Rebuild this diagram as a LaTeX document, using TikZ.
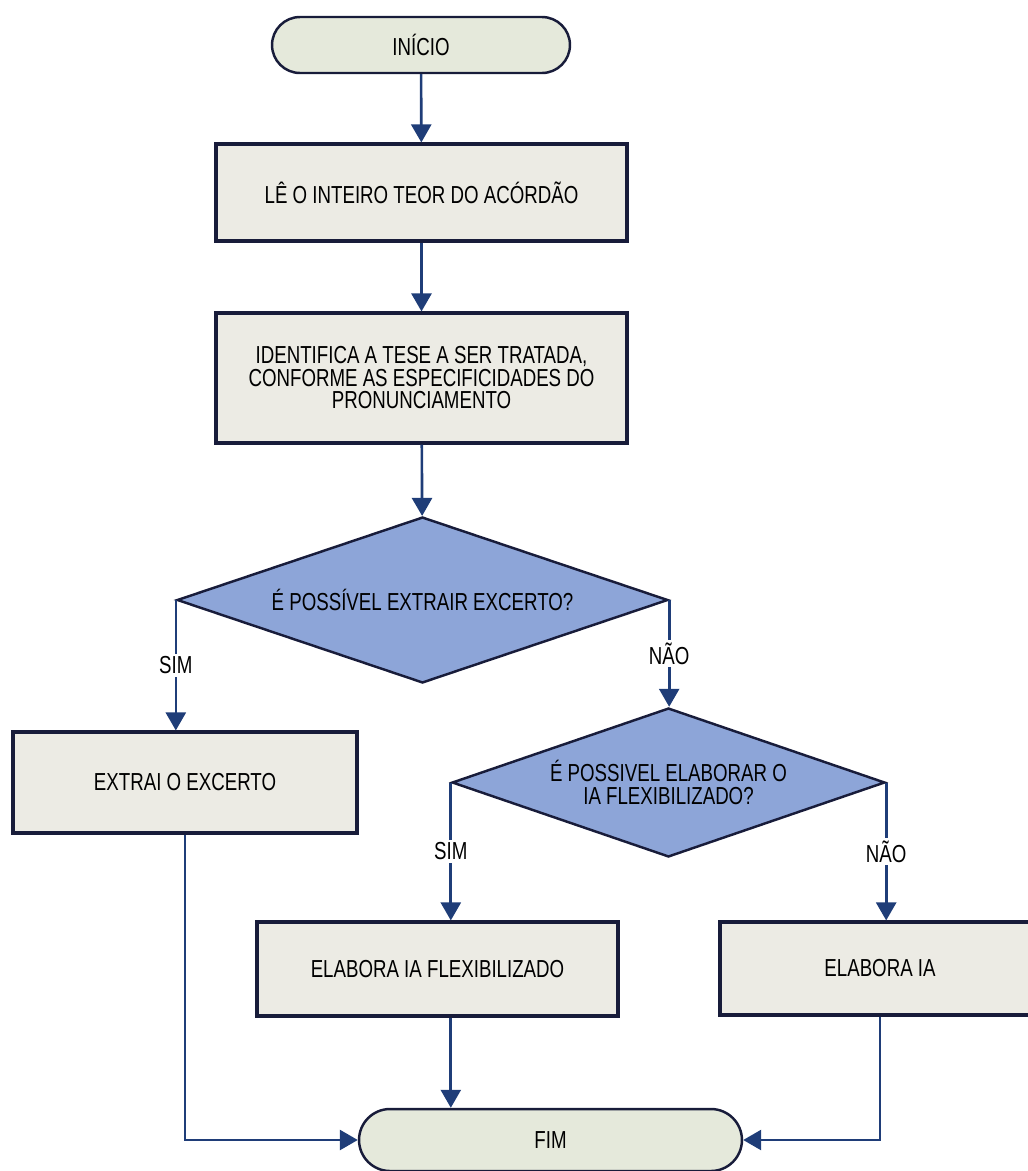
\documentclass[tikz,border=0pt]{standalone}
\usepackage{fontspec}
\setmainfont{Liberation Sans}[FakeStretch=0.76]
\usepackage{tikz}
\usetikzlibrary{shapes,arrows.meta,positioning,calc}
\usepackage{xcolor}
\definecolor{linecolor}{RGB}{31,61,120}
\definecolor{edgecolor}{RGB}{24,28,58}
\definecolor{boxcolor}{RGB}{236,235,228}
\definecolor{termcolor}{RGB}{229,233,219}
\definecolor{decisioncolor}{RGB}{141,165,216}

\begin{document}
\begin{tikzpicture}[
    x=0.02cm, y=-0.02cm,
    every node/.style={font=\fontsize{14}{12.8}\selectfont},
    terminal/.style={rectangle, rounded corners=0.56cm, draw=edgecolor, line width=1.4pt, fill=termcolor, minimum width=5.96cm, minimum height=1.12cm, align=center},
    process/.style={rectangle, draw=edgecolor, line width=1.8pt, fill=boxcolor, align=center},
    decision/.style={diamond, draw=edgecolor, line width=1.4pt, fill=decisioncolor, inner sep=0pt, align=center},
    arrow/.style={-{Triangle[length=3.6mm,width=4mm]}, line width=1.5pt, draw=linecolor},
    answer/.style={fill=white, inner sep=1.5pt}
]

% Page frame
\useasboundingbox (0,0) rectangle (1028,1171);

% Start
\node[terminal] (inicio) at (421,45) {INÍCIO};

% Read the decision
\node[process, minimum width=8.22cm, minimum height=1.94cm] (ler) at (421.5,192.5) {LÊ O INTEIRO TEOR DO ACÓRDÃO};

% Identify the thesis
\node[process, minimum width=8.22cm, minimum height=2.6cm] (tese) at (421.5,378) {
    IDENTIFICA A TESE A SER TRATADA,\\
    CONFORME AS ESPECIFICIDADES DO\\
    PRONUNCIAMENTO
};

% First question
\node[decision, shape aspect=2.96, minimum width=9.82cm, minimum height=3.32cm] (excerto) at (422.5,600) {É POSSÍVEL EXTRAIR EXCERTO?};

% Extract (left)
\node[process, minimum width=6.88cm, minimum height=2.02cm] (extrai) at (185,782.5) {EXTRAI O EXCERTO};

% Second question (right)
\node[decision, shape aspect=2.9, minimum width=8.66cm, minimum height=2.98cm] (flexq) at (668.5,782.5) {
    É POSSIVEL ELABORAR O\\
    IA FLEXIBILIZADO?
};

% Flexible IA
\node[process, minimum width=7.22cm, minimum height=1.88cm] (flex) at (437.5,969) {ELABORA IA FLEXIBILIZADO};

% Plain IA
\node[process, minimum width=6.4cm, minimum height=1.86cm] (ia) at (880,968.5) {ELABORA IA};

% End
\node[terminal, minimum width=7.66cm, minimum height=1.24cm, rounded corners=0.62cm] (fim) at (550.5,1140) {FIM};

% Main flow
\draw[arrow] (inicio) -- (ler);
\draw[arrow] (ler) -- (tese);
\draw[arrow] (tese) -- (excerto);

% Answers
\draw[arrow] (excerto.west) -- node[answer] {SIM} (excerto.west |- extrai.north);
\draw[arrow] (excerto.east) -- node[answer] {NÃO} (excerto.east |- flexq.north);
\draw[arrow] (flexq.west) -- node[answer] {SIM} (flexq.west |- flex.north);
\draw[arrow] (flexq.east) -- node[answer] {NÃO} (flexq.east |- ia.north);

% Towards the end
\draw[arrow] (extrai.south) |- (fim.west);
\draw[arrow] (flexq.west |- flex.south) -- (flexq.west |- fim.north);
\draw[arrow] (ia.south) |- (fim.east);

\end{tikzpicture}
\end{document}
